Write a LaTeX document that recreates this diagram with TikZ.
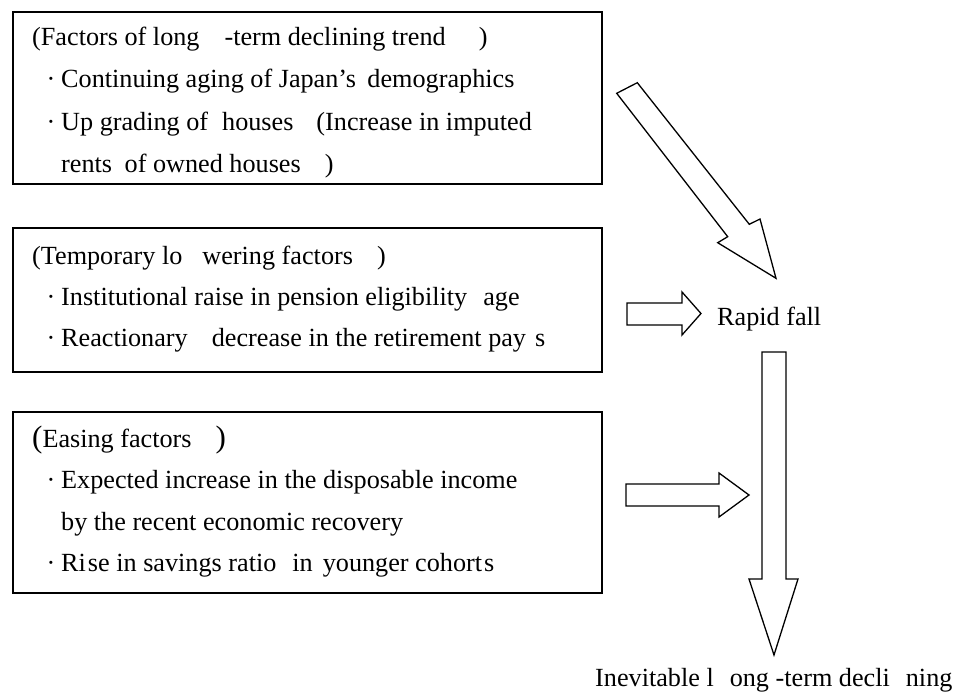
\documentclass[tikz,border=0pt]{standalone}
\usepackage{fontspec}
\setmainfont{Liberation Serif}
\begin{document}
\begin{tikzpicture}[x=1pt,y=-1pt,
  box/.style={draw=black,line width=1.5pt},
  blockarrow/.style={draw=black,line width=1.3pt,line join=miter,fill=white},
  txt/.style={anchor=base west,inner sep=0pt,font=\fontsize{26.2}{30}\selectfont},
  bul/.style={anchor=base,inner sep=0pt,font=\fontsize{26.2}{30}\selectfont}]
\useasboundingbox[fill=white] (0,0) rectangle (954,693);
% boxes
\draw[box] (13,12) rectangle (602,184);
\draw[box] (13,228) rectangle (602,372);
\draw[box] (13,412) rectangle (602,593);
% box 1 text
\node[txt] (t11) at (32,46) {(Factors of long\hspace{25pt}-term declining trend\hspace{33pt})};
\node[bul] (b12) at (51,88) {·};
\node[txt] (t12) at (61,88) {Continuing aging of Japan’s\hspace{5pt} demographics};
\node[bul] (b13) at (51,130) {·};
\node[txt] (t13) at (61,130) {Up grading of\hspace{14pt}houses\hspace{23pt}(Increase in imputed};
\node[txt] (t14) at (61,172) {rents\hspace{6pt} of owned houses\hspace{24pt})};
% box 2 text
\node[txt] (t21) at (32,264) {(Temporary lo\hspace{20pt}wering factors\hspace{24pt})};
\node[bul] (b22) at (51,305) {·};
\node[txt] (t22) at (61,305) {Institutional raise in pension eligibility\hspace{16pt}age};
\node[bul] (b23) at (51,346) {·};
\node[txt] (t23) at (61,346) {Reactionary\hspace{24pt}decrease in the retirement pay\hspace{9pt}s};
% box 3 text
\node[txt] (t31) at (32,447) {{\fontsize{31}{31}\selectfont(}Easing factors\hspace{24pt}{\fontsize{31}{31}\selectfont)}};
\node[bul] (b32) at (51,488) {·};
\node[txt] (t32) at (61,488) {Expected increase in the disposable income};
\node[txt] (t33) at (61,530) {by the recent economic recovery};
\node[bul] (b34) at (51,571) {·};
\node[txt] (t34) at (61,571) {Ri\hspace{2pt}se in savings ratio\hspace{16pt}in\hspace{10pt}younger cohort\hspace{2pt}s};
% labels
\node[txt] (rapid) at (717,325) {Rapid fall};
\node[txt] (inev) at (595,686) {Inevitable l\hspace{16pt}ong -term decli\hspace{16pt}ning};
% diagonal block arrow
\draw[blockarrow] (616.7,93.3) -- (637.3,82.7) -- (749.3,224.3) -- (760,219) -- (776,278.3) -- (717.7,242.7) -- (727.7,236.7) -- cycle;
% right arrow 1
\draw[blockarrow] (627,303) -- (682,303) -- (682,292) -- (701,313.5) -- (682,335) -- (682,325) -- (627,325) -- cycle;
% right arrow 2
\draw[blockarrow] (626,484) -- (719,484) -- (719,473) -- (749,495) -- (719,517) -- (719,506) -- (626,506) -- cycle;
% vertical arrow
\draw[blockarrow] (762,352) -- (786,352) -- (786,579) -- (798,579) -- (774,655) -- (749,579) -- (762,579) -- cycle;
\end{tikzpicture}
\end{document}
